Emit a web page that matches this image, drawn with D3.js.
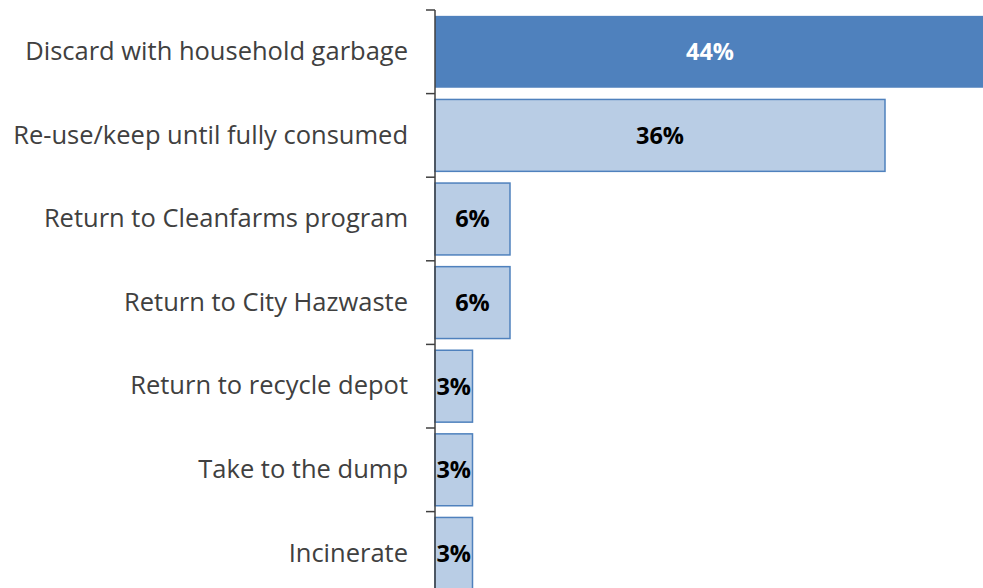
<!DOCTYPE html>
<html>
<head>
<meta charset="utf-8">
<script src="https://cdn.jsdelivr.net/npm/d3@7"></script>
<style>
  html, body { margin: 0; padding: 0; background: #fff; }
  svg { display: block; }
</style>
</head>
<body>
<svg id="chart" width="983" height="588"></svg>
<script>
// Disposal methods and share of respondents (%)
const categories = [
  "Discard with household garbage",
  "Re-use/keep until fully consumed",
  "Return to Cleanfarms program",
  "Return to City Hazwaste",
  "Return to recycle depot",
  "Take to the dump",
  "Incinerate"
];
const values = [44, 36, 6, 6, 3, 3, 3];
const labels = ["44%", "36%", "6%", "6%", "3%", "3%", "3%"];

const svg = d3.select("#chart");
const axisX = 435;
const plotTop = 10, bandStep = 83.6;

const x = d3.scaleLinear().domain([0, 44]).range([axisX, 985]);
const y = d3.scaleBand()
  .domain(categories)
  .range([plotTop, plotTop + bandStep * categories.length])
  .paddingInner(0.14)
  .paddingOuter(0.07);

const data = categories.map((c, i) => ({ c, v: values[i], label: labels[i], i }));

// bars
svg.append("g").selectAll("rect").data(data).join("rect")
  .attr("x", x(0))
  .attr("y", d => y(d.c))
  .attr("width", d => x(d.v) - x(0))
  .attr("height", y.bandwidth())
  .attr("fill", d => d.i === 0 ? "#4F81BD" : "#B9CDE5")
  .attr("stroke", d => d.i === 0 ? "none" : "#4F81BD")
  .attr("stroke-width", 1.5);

// value labels
svg.append("g").selectAll("text").data(data).join("text")
  .attr("x", d => (x(0) + x(d.v)) / 2)
  .attr("y", d => y(d.c) + y.bandwidth() / 2)
  .attr("dy", "0.36em")
  .attr("text-anchor", "middle")
  .attr("font-family", "'Open Sans', sans-serif")
  .attr("font-weight", "bold")
  .attr("font-size", 23.5)
  .attr("fill", d => d.i === 0 ? "#ffffff" : "#000000")
  .text(d => d.label);

// category axis
const yAxis = d3.axisLeft(y).tickSize(0).tickPadding(27);
const gAxis = svg.append("g")
  .attr("transform", `translate(${axisX},0)`)
  .call(yAxis);
gAxis.select(".domain").remove();
gAxis.selectAll("text")
  .attr("font-family", "'Open Sans', sans-serif")
  .attr("font-size", 25.5)
  .attr("fill", "#404040");

// axis line with boundary ticks
const tickYs = d3.range(categories.length + 1).map(i => plotTop + i * bandStep);
svg.append("line")
  .attr("x1", axisX).attr("x2", axisX)
  .attr("y1", plotTop).attr("y2", tickYs[tickYs.length - 1])
  .attr("stroke", "#404040").attr("stroke-width", 1.5);
svg.append("g").selectAll("line").data(tickYs).join("line")
  .attr("x1", axisX - 9).attr("x2", axisX)
  .attr("y1", d => d).attr("y2", d => d)
  .attr("stroke", "#404040").attr("stroke-width", 1.5);
</script>
</body>
</html>
